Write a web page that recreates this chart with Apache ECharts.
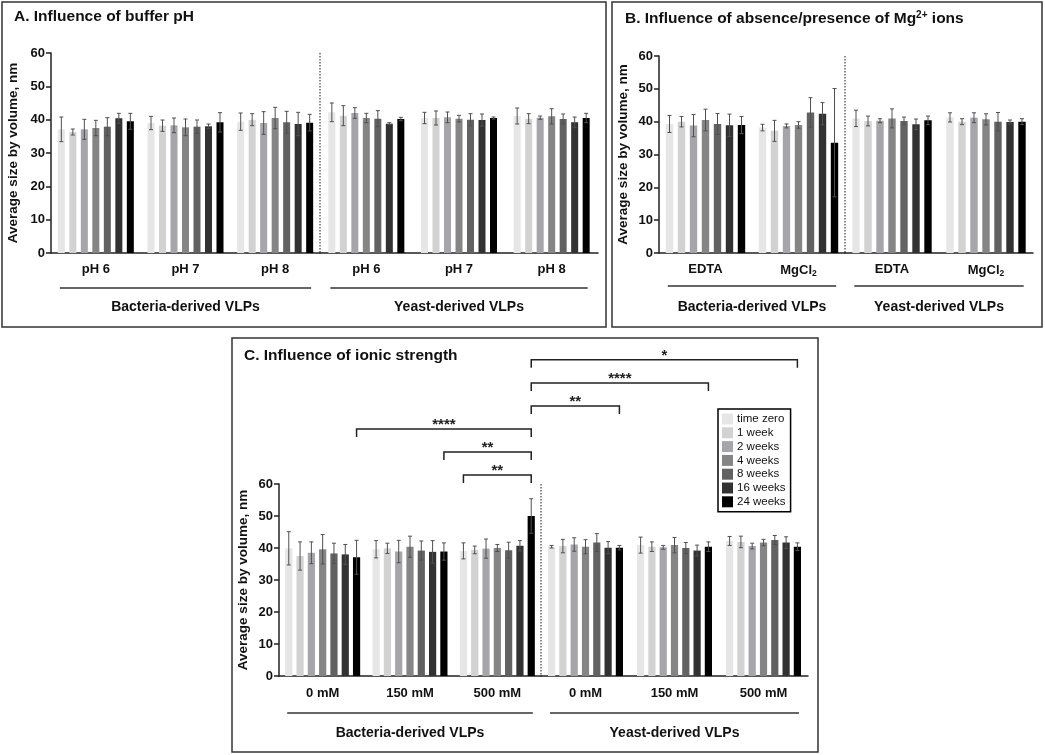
<!DOCTYPE html>
<html>
<head>
<meta charset="utf-8">
<title>VLP size stability</title>
<script src="https://cdn.jsdelivr.net/npm/echarts@6/dist/echarts.min.js"></script>
<style>
  html, body { margin: 0; padding: 0; background: #fff; }
  #chart { width: 1045px; height: 755px; }
</style>
</head>
<body>
<div id="chart"></div>
<script>
// 字体
const fontFamily = '"Liberation Sans", Arial, sans-serif';

// 时间点（图例）
const timePoints = ['time zero', '1 week', '2 weeks', '4 weeks', '8 weeks', '16 weeks', '24 weeks'];
const barColors = ['#e6e6e6', '#d2d2d2', '#a5a5aa', '#858585', '#626262', '#323232', '#000000'];

const sourceLabels = ['Bacteria-derived VLPs', 'Yeast-derived VLPs'];
const sizeAxis = { min: 0, max: 60, interval: 10 };

// A. buffer pH —— 行 = 类别，列 = 时间点
const phLabels = ['pH 6', 'pH 7', 'pH 8'];
const phBacteriaMean = [
    [37.1, 36.3, 37.1, 37.5, 37.9, 40.4, 39.5],
    [39.0, 38.2, 38.3, 37.7, 37.9, 38.0, 39.2],
    [39.4, 40.0, 39.0, 40.5, 39.2, 38.7, 39.1]
];
const phBacteriaSd = [
    [3.7, 0.9, 3.0, 2.3, 2.7, 1.5, 2.4],
    [2.0, 1.7, 2.2, 2.5, 2.0, 0.7, 2.9],
    [2.6, 1.8, 3.4, 3.2, 3.3, 3.5, 2.5]
];
const phYeastMean = [
    [42.2, 41.2, 42.0, 40.5, 40.3, 38.8, 40.2],
    [40.5, 40.5, 40.7, 40.3, 40.0, 39.9, 40.5],
    [41.1, 40.3, 40.6, 41.0, 40.2, 39.2, 40.5]
];
const phYeastSd = [
    [2.8, 3.0, 1.6, 1.4, 2.4, 0.3, 0.5],
    [1.7, 2.1, 1.6, 1.0, 1.8, 1.8, 0.3],
    [2.4, 1.5, 0.5, 2.3, 1.5, 1.6, 1.4]
];

// B. Mg2+
const mgLabels = ['EDTA', 'MgCl2'];
const mgBacteriaMean = [
    [39.3, 40.0, 38.8, 40.5, 39.3, 38.9, 39.0],
    [38.2, 37.2, 38.7, 39.0, 42.8, 42.4, 33.6]
];
const mgBacteriaSd = [
    [2.6, 1.6, 3.4, 3.3, 3.2, 3.4, 2.6],
    [1.0, 3.2, 0.6, 1.0, 4.5, 3.4, 16.5]
];
const mgYeastMean = [
    [41.0, 40.2, 40.3, 41.0, 40.2, 39.2, 40.4],
    [41.3, 40.0, 41.2, 40.7, 40.0, 39.9, 40.0]
];
const mgYeastSd = [
    [2.5, 1.5, 0.6, 2.9, 1.2, 1.6, 1.3],
    [1.4, 0.9, 1.5, 1.7, 2.8, 0.6, 0.9]
];

// C. ionic strength
const ionicLabels = ['0 mM', '150 mM', '500 mM'];
const ionicBacteriaMean = [
    [39.9, 37.5, 38.5, 39.6, 38.3, 38.0, 37.1],
    [39.6, 39.9, 38.9, 40.4, 39.2, 38.8, 38.9],
    [39.1, 39.4, 39.8, 40.0, 39.3, 40.7, 50.0]
];
const ionicBacteriaSd = [
    [5.2, 4.4, 3.4, 4.6, 3.2, 3.1, 5.3],
    [2.7, 1.6, 3.5, 3.3, 3.0, 3.5, 2.7],
    [2.5, 1.2, 3.0, 1.1, 2.5, 1.6, 5.4]
];
const ionicYeastMean = [
    [40.4, 40.6, 41.1, 40.4, 41.7, 40.1, 40.1],
    [40.9, 40.4, 40.2, 40.9, 40.0, 39.2, 40.4],
    [42.2, 41.9, 40.6, 41.7, 42.5, 41.7, 40.4]
];
const ionicYeastSd = [
    [0.4, 2.1, 2.1, 2.2, 2.8, 1.9, 0.7],
    [2.5, 1.5, 0.6, 2.4, 1.7, 1.7, 1.5],
    [1.4, 1.8, 0.9, 1.0, 1.4, 1.8, 1.2]
];

// 显著性标注：[grid, 类别, 时间点]，level 为 y 轴数值高度
const sigBrackets = [
    { from: [4, 2, 0], to: [4, 2, 6], level: 62.8, label: '**' },
    { from: [4, 1, 6], to: [4, 2, 6], level: 70.0, label: '**' },
    { from: [4, 0, 6], to: [4, 2, 6], level: 77.2, label: '****' },
    { from: [4, 2, 6], to: [5, 0, 6], level: 84.4, label: '**' },
    { from: [4, 2, 6], to: [5, 1, 6], level: 91.6, label: '****' },
    { from: [4, 2, 6], to: [5, 2, 6], level: 98.8, label: '*' }
];

// 布局
const panels = [
    {
        labels: phLabels,
        groups: [[phBacteriaMean, phBacteriaSd], [phYeastMean, phYeastSd]],
        grids: [{ left: 51, top: 53, width: 269, height: 200 }, { left: 320, top: 53, width: 278, height: 200 }],
        barWidth: 7, barSpace: 4.5, yNameGap: 31, labelMargin: 10, groupNameGap: 47, lineOffset: 35
    },
    {
        labels: mgLabels,
        groups: [[mgBacteriaMean, mgBacteriaSd], [mgYeastMean, mgYeastSd]],
        grids: [{ left: 659, top: 56, width: 186, height: 197 }, { left: 845, top: 56, width: 188, height: 197 }],
        barWidth: 7.4, barSpace: 4.6, yNameGap: 28.5, labelMargin: 10, groupNameGap: 47, lineOffset: 33
    },
    {
        labels: ionicLabels,
        groups: [[ionicBacteriaMean, ionicBacteriaSd], [ionicYeastMean, ionicYeastSd]],
        grids: [{ left: 279, top: 484, width: 262, height: 192 }, { left: 541, top: 484, width: 267, height: 192 }],
        barWidth: 7.2, barSpace: 4.1, yNameGap: 29, labelMargin: 11, groupNameGap: 50, lineOffset: 37
    }
];
const panelFrames = [
    { x: 2, y: 2, width: 604, height: 325 },
    { x: 612, y: 2, width: 430, height: 325 },
    { x: 232, y: 338, width: 586, height: 414 }
];

const axisColor = '#222';
const textColor = '#111';

function labelFormatter(value) {
    return value === 'MgCl2' ? 'MgCl{sub|2}' : value;
}

// 误差线
function errorBarRenderer(step) {
    return function (params, api) {
        const cat = api.value(0);
        const t = api.value(1);
        const m = api.value(2);
        const s = api.value(3);
        const x = api.coord([cat, m])[0] + (t - 3) * step;
        const yTop = api.coord([cat, m + s])[1];
        const yBot = api.coord([cat, Math.max(m - s, 0)])[1];
        const cap = 2;
        const style = { stroke: '#505050', lineWidth: 1 };
        return {
            type: 'group',
            children: [
                { type: 'line', shape: { x1: x, y1: yTop, x2: x, y2: yBot }, style: style },
                { type: 'line', shape: { x1: x - cap, y1: yTop, x2: x + cap, y2: yTop }, style: style },
                { type: 'line', shape: { x1: x - cap, y1: yBot, x2: x + cap, y2: yBot }, style: style }
            ]
        };
    };
}

function buildOption() {
    const grid = [], xAxis = [], yAxis = [], series = [];
    panels.forEach(function (p, pi) {
        const step = p.barWidth + p.barSpace;
        p.groups.forEach(function (grp, g) {
            const gi = pi * 2 + g;
            const mean = grp[0], sd = grp[1];
            grid.push(p.grids[g]);
            xAxis.push({
                gridIndex: gi,
                type: 'category',
                data: p.labels,
                axisLine: { lineStyle: { color: axisColor, width: 1.5 } },
                axisTick: { alignWithLabel: true, length: 5, lineStyle: { color: axisColor, width: 1.5 } },
                axisLabel: {
                    interval: 0, hideOverlap: false,
                    margin: p.labelMargin, fontSize: 13, fontWeight: 'bold', color: textColor,
                    formatter: labelFormatter,
                    rich: { sub: { fontSize: 8.5, fontWeight: 'bold', color: textColor, padding: [6, 0, 0, 0] } }
                },
                name: sourceLabels[g],
                nameLocation: 'middle',
                nameGap: p.groupNameGap,
                nameTextStyle: { fontSize: 14, fontWeight: 'bold', color: textColor }
            });
            yAxis.push({
                gridIndex: gi,
                type: 'value',
                show: g === 0,
                min: sizeAxis.min, max: sizeAxis.max, interval: sizeAxis.interval,
                name: 'Average size by volume, nm',
                nameLocation: 'middle',
                nameGap: p.yNameGap,
                nameTextStyle: { fontSize: 13.5, fontWeight: 'bold', color: textColor },
                axisLine: { show: true, lineStyle: { color: axisColor, width: 1.5 } },
                axisTick: { show: true, length: 5, lineStyle: { color: axisColor, width: 1.5 } },
                axisLabel: { fontSize: 13, fontWeight: 'bold', color: textColor, margin: 6 },
                splitLine: { show: false }
            });
            timePoints.forEach(function (tp, t) {
                series.push({
                    type: 'bar',
                    name: tp,
                    xAxisIndex: gi,
                    yAxisIndex: gi,
                    data: mean.map(function (row) { return row[t]; }),
                    barWidth: p.barWidth,
                    barGap: (p.barSpace / p.barWidth * 100) + '%',
                    itemStyle: { color: barColors[t] },
                    silent: true
                });
            });
            const errData = [];
            mean.forEach(function (row, c) {
                row.forEach(function (m, t) { errData.push([c, t, m, sd[c][t]]); });
            });
            series.push({
                type: 'custom',
                xAxisIndex: gi,
                yAxisIndex: gi,
                renderItem: errorBarRenderer(step),
                encode: { x: 0, y: 2 },
                data: errData,
                z: 5,
                silent: true
            });
        });
    });

    return {
        animation: false,
        backgroundColor: '#fff',
        textStyle: { fontFamily: fontFamily },
        title: [
            {
                text: 'A. Influence of buffer pH', left: 14, top: 9, padding: 0,
                textStyle: { fontSize: 15.5, fontWeight: 'bold', color: textColor }
            },
            {
                text: 'B. Influence of absence/presence of Mg{sup|2+} ions', left: 625, top: 10, padding: 0,
                textStyle: {
                    fontSize: 15.5, fontWeight: 'bold', color: textColor,
                    rich: { sup: { fontSize: 10, fontWeight: 'bold', color: textColor, padding: [0, 0, 7, 0] } }
                }
            },
            {
                text: 'C. Influence of ionic strength', left: 244, top: 348, padding: 0,
                textStyle: { fontSize: 15.5, fontWeight: 'bold', color: textColor }
            }
        ],
        legend: {
            data: timePoints,
            orient: 'vertical',
            left: 718, top: 409,
            icon: 'rect',
            itemWidth: 11, itemHeight: 11, itemGap: 1.8,
            padding: [4, 5, 4, 4],
            borderColor: '#000', borderWidth: 1.5,
            selectedMode: false,
            textStyle: { fontSize: 11.5, color: textColor, padding: [0, 0, 0, -1] }
        },
        grid: grid,
        xAxis: xAxis,
        yAxis: yAxis,
        series: series
    };
}

// 叠加：外框、分隔虚线、分组横线、显著性括号
function buildOverlay(chart) {
    const overlay = [];
    panelFrames.forEach(function (f) {
        overlay.push({ type: 'rect', shape: f, silent: true, style: { fill: 'none', stroke: '#333', lineWidth: 1.5 } });
    });
    panels.forEach(function (p, pi) {
        const step = p.barWidth + p.barSpace;
        const half = 3 * step + p.barWidth / 2;
        const gL = p.grids[0];
        const sepX = p.grids[1].left;
        overlay.push({
            type: 'line', silent: true,
            shape: { x1: sepX, y1: gL.top, x2: sepX, y2: gL.top + gL.height },
            style: { stroke: '#666', lineWidth: 1.5, lineDash: [1.5, 1.5] }
        });
        [0, 1].forEach(function (g) {
            const gi = pi * 2 + g;
            const first = chart.convertToPixel({ gridIndex: gi }, [0, 0]);
            const last = chart.convertToPixel({ gridIndex: gi }, [p.labels.length - 1, 0]);
            const y = first[1] + p.lineOffset;
            overlay.push({
                type: 'line', silent: true,
                shape: { x1: first[0] - half + 2, y1: y, x2: last[0] + half - 2, y2: y },
                style: { stroke: '#333', lineWidth: 1.5 }
            });
        });
    });
    const pc = panels[2];
    const stepC = pc.barWidth + pc.barSpace;
    sigBrackets.forEach(function (b) {
        const p1 = chart.convertToPixel({ gridIndex: b.from[0] }, [b.from[1], b.level]);
        const p2 = chart.convertToPixel({ gridIndex: b.to[0] }, [b.to[1], b.level]);
        const x1 = p1[0] + (b.from[2] - 3) * stepC;
        const x2 = p2[0] + (b.to[2] - 3) * stepC;
        const y = p1[1];
        overlay.push({
            type: 'polyline', silent: true,
            shape: { points: [[x1, y + 8], [x1, y], [x2, y], [x2, y + 8]] },
            style: { stroke: '#222', lineWidth: 1.5, fill: 'none' }
        });
        overlay.push({
            type: 'text', silent: true,
            x: (x1 + x2) / 2, y: y - 4,
            style: {
                text: b.label, fontSize: 15, fontWeight: 'bold', fontFamily: fontFamily,
                fill: '#222', align: 'center', verticalAlign: 'middle'
            }
        });
    });
    return overlay;
}

function init() {
    const chart = echarts.init(document.getElementById('chart'));
    chart.setOption(buildOption());
    chart.setOption({ graphic: buildOverlay(chart) });
}

window.addEventListener('DOMContentLoaded', init);
</script>
</body>
</html>
